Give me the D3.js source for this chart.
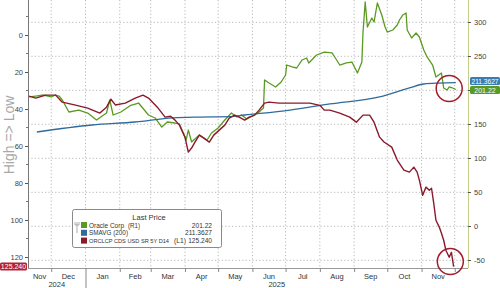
<!DOCTYPE html>
<html>
<head>
<meta charset="utf-8">
<script src="https://cdn.jsdelivr.net/npm/d3@7"></script>
<style>
  body { margin: 0; background: #fff; }
  svg { display: block; font-family: "Liberation Sans", Arial, sans-serif; }
  .axis path, .axis line { shape-rendering: crispEdges; }
</style>
</head>
<body>
<svg id="chart" width="500" height="288"></svg>
<script>
"use strict"

// Oracle Corp share price (right axis)
const oracle = [
  ["2024-11-11", 190.2], ["2024-11-17", 191.6], ["2024-11-24", 193.1], ["2024-12-01", 190.2],
  ["2024-12-05", 193.1], ["2024-12-08", 191.6], ["2024-12-11", 185.7], ["2024-12-17", 168.1],
  ["2024-12-26", 171.0], ["2025-01-03", 166.6], ["2025-01-11", 156.3], ["2025-01-20", 166.6],
  ["2025-01-23", 185.7], ["2025-01-26", 163.7], ["2025-02-02", 168.1], ["2025-02-11", 178.0],
  ["2025-02-18", 181.3], ["2025-02-27", 163.7], ["2025-03-05", 159.3], ["2025-03-11", 146.0],
  ["2025-03-16", 153.4], ["2025-03-23", 151.9], ["2025-03-27", 150.5], ["2025-04-02", 126.9],
  ["2025-04-04", 141.6], ["2025-04-07", 124.0], ["2025-04-14", 134.3], ["2025-04-21", 126.9],
  ["2025-04-25", 137.2], ["2025-05-01", 144.6], ["2025-05-07", 156.3], ["2025-05-13", 166.6],
  ["2025-05-18", 160.7], ["2025-05-22", 163.7], ["2025-05-27", 157.8], ["2025-06-03", 163.7],
  ["2025-06-07", 168.1], ["2025-06-11", 174.0], ["2025-06-12", 215.2], ["2025-06-16", 210.7],
  ["2025-06-22", 204.9], ["2025-06-27", 212.2], ["2025-07-01", 222.5], ["2025-07-02", 237.2],
  ["2025-07-07", 234.3], ["2025-07-11", 232.8], ["2025-07-16", 244.6], ["2025-07-20", 247.5],
  ["2025-07-22", 240.2], ["2025-07-29", 251.9], ["2025-08-05", 256.3], ["2025-08-12", 254.9],
  ["2025-08-15", 247.5], ["2025-08-19", 237.2], ["2025-08-25", 240.2], ["2025-08-30", 241.6],
  ["2025-09-04", 225.4], ["2025-09-08", 241.6], ["2025-09-09", 284.3], ["2025-09-11", 329.9],
  ["2025-09-13", 293.1], ["2025-09-17", 306.3], ["2025-09-19", 300.4], ["2025-09-22", 328.4],
  ["2025-09-26", 310.7], ["2025-09-29", 293.1], ["2025-10-01", 285.7], ["2025-10-06", 288.7],
  ["2025-10-10", 296.0], ["2025-10-12", 303.4], ["2025-10-15", 310.7], ["2025-10-18", 313.7],
  ["2025-10-19", 288.7], ["2025-10-23", 276.9], ["2025-10-27", 284.3], ["2025-10-30", 278.4],
  ["2025-11-03", 259.3], ["2025-11-06", 249.0], ["2025-11-11", 237.2], ["2025-11-14", 219.6],
  ["2025-11-19", 225.4], ["2025-11-21", 203.4], ["2025-11-24", 200.4], ["2025-11-26", 204.9],
  ["2025-11-29", 203.4], ["2025-12-02", 201.22]
]

// 200 day moving average (right axis)
const smavg = [
  ["2024-11-18", 138.7], ["2025-01-07", 149.0], ["2025-02-15", 153.4], ["2025-03-21", 159.5],
  ["2025-04-14", 160.7], ["2025-05-11", 161.2], ["2025-05-25", 163.7], ["2025-07-05", 171.0],
  ["2025-08-10", 179.9], ["2025-09-24", 190.2], ["2025-10-21", 203.4], ["2025-11-03", 209.3],
  ["2025-11-17", 210.7], ["2025-12-02", 211.3627]
]

// ORCLCP CDS USD SR 5Y D14 (left axis, inverted)
const cds = [
  ["2024-11-11", 33.1], ["2024-11-17", 34.2], ["2024-11-26", 32.6], ["2024-12-05", 32.6],
  ["2024-12-11", 36.4], ["2024-12-23", 38.0], ["2025-01-03", 39.6], ["2025-01-14", 42.3],
  ["2025-01-20", 39.1], ["2025-01-24", 34.8], ["2025-01-28", 37.9], ["2025-02-06", 36.9],
  ["2025-02-15", 34.2], ["2025-02-22", 32.6], ["2025-02-27", 34.2], ["2025-03-07", 39.1],
  ["2025-03-14", 44.5], ["2025-03-19", 44.0], ["2025-03-23", 46.1], ["2025-03-27", 48.8],
  ["2025-04-01", 55.3], ["2025-04-04", 63.4], ["2025-04-07", 61.2], ["2025-04-10", 58.0],
  ["2025-04-14", 54.2], ["2025-04-18", 55.8], ["2025-04-23", 58.0], ["2025-04-27", 54.2],
  ["2025-05-02", 51.5], ["2025-05-07", 48.8], ["2025-05-11", 45.0], ["2025-05-16", 43.4],
  ["2025-05-20", 44.5], ["2025-05-25", 46.1], ["2025-05-29", 44.5], ["2025-06-03", 43.4],
  ["2025-06-07", 40.7], ["2025-06-12", 36.9], ["2025-06-16", 36.4], ["2025-06-25", 36.9],
  ["2025-07-05", 36.9], ["2025-07-14", 36.9], ["2025-07-23", 36.9], ["2025-08-01", 38.1],
  ["2025-08-05", 40.7], ["2025-08-10", 40.7], ["2025-08-19", 42.3], ["2025-08-28", 44.5],
  ["2025-09-03", 47.2], ["2025-09-09", 43.4], ["2025-09-15", 43.4], ["2025-09-19", 47.2],
  ["2025-09-24", 55.3], ["2025-09-28", 57.9], ["2025-10-05", 60.7], ["2025-10-10", 67.7],
  ["2025-10-16", 73.1], ["2025-10-21", 74.2], ["2025-10-25", 71.5], ["2025-10-28", 74.2],
  ["2025-10-30", 78.5], ["2025-11-02", 86.7], ["2025-11-05", 82.3], ["2025-11-08", 84.0],
  ["2025-11-10", 82.9], ["2025-11-12", 91.0], ["2025-11-14", 100.2], ["2025-11-17", 103.9],
  ["2025-11-19", 107.2], ["2025-11-21", 111.0], ["2025-11-23", 116.4], ["2025-11-26", 120.2],
  ["2025-11-28", 117.5], ["2025-11-30", 125.24]
]

const leftTicks = [0, 20, 40, 60, 80, 100, 120]
const leftMinor = [-10, 10, 30, 50, 70, 90, 110]
const rightTicks = [-50, 0, 50, 100, 150, 200, 250, 300]
const legendNames = ["Oracle Corp", "SMAVG (200)", "ORCLCP CDS USD SR 5Y D14"]
const legendSides = ["(R1)", "", "(L1)"]
const legendValues = ["201.22", "211.3627", "125.240"]
const colors = ["#5b9a22", "#2f6b9c", "#8a1a2b"]

const parse = d3.timeParse("%Y-%m-%d")
const margin = {left: 28, right: 32, top: 0, bottom: 20}
const W = 500, H = 288
const plotB = H - margin.bottom

const svg = d3.select("#chart")

const x = d3.scaleTime()
  .domain([parse("2024-11-10"), parse("2025-12-13")])
  .range([margin.left, W - margin.right])
const yL = d3.scaleLinear().domain([-18.8, 126]).range([0, plotB])
const yR = d3.scaleLinear().domain([-61.3, 332.8]).range([plotB, 0])

// grid
const monthStarts = d3.timeMonth.range(parse("2024-12-01"), parse("2025-12-02"))
svg.append("g").selectAll("line")
  .data(monthStarts)
  .join("line")
  .attr("x1", d => x(d)).attr("x2", d => x(d))
  .attr("y1", 0).attr("y2", plotB)
  .attr("stroke", "#b8b8b8").attr("stroke-width", 1)
  .attr("stroke-dasharray", "1.2,2.2")
svg.append("g").selectAll("line")
  .data(rightTicks)
  .join("line")
  .attr("x1", margin.left).attr("x2", W - margin.right)
  .attr("y1", d => yR(d)).attr("y2", d => yR(d))
  .attr("stroke", "#b8b8b8").attr("stroke-width", 1)
  .attr("stroke-dasharray", "1.2,2.2")

// lines
const lineR = d3.line().x(d => x(parse(d[0]))).y(d => yR(d[1]))
const lineL = d3.line().x(d => x(parse(d[0]))).y(d => yL(d[1]))

svg.append("path").datum(oracle).attr("d", lineR)
  .attr("fill", "none").attr("stroke", colors[0]).attr("stroke-width", 1.3).attr("stroke-linejoin", "round")
svg.append("path").datum(smavg).attr("d", lineR.curve(d3.curveMonotoneX))
  .attr("fill", "none").attr("stroke", colors[1]).attr("stroke-width", 1.3)
svg.append("path").datum(cds).attr("d", lineL)
  .attr("fill", "none").attr("stroke", colors[2]).attr("stroke-width", 1.4).attr("stroke-linejoin", "round")

// left axis
const axL = svg.append("g").attr("class", "axis")
  .attr("transform", "translate(" + margin.left + ",0)")
  .call(d3.axisLeft(yL).tickValues(leftTicks).tickSize(3).tickPadding(2))
axL.select(".domain").attr("stroke", "#777").attr("d", "M0,0V" + plotB)
axL.selectAll("line").attr("stroke", "#555")
axL.selectAll("text").attr("fill", "#444").style("font-size", "7.5px")
svg.append("g").attr("class", "axis")
  .attr("transform", "translate(" + margin.left + ",0)")
  .call(d3.axisLeft(yL).tickValues(leftMinor).tickSize(2).tickFormat(""))
  .call(g => g.select(".domain").remove())
  .selectAll("line").attr("stroke", "#777")

// right axis (the 200 label sits under the last value tags)
const axR = svg.append("g").attr("class", "axis")
  .attr("transform", "translate(" + (W - margin.right) + ",0)")
  .call(d3.axisRight(yR).tickValues(rightTicks).tickSize(3).tickPadding(3)
    .tickFormat(d => d === 200 ? "" : d))
axR.select(".domain").attr("stroke", "#c3cf86").attr("d", "M0,0V" + plotB)
axR.selectAll("line").attr("stroke", "#555")
axR.selectAll("text").attr("fill", "#444").style("font-size", "7.5px")

// bottom axis
svg.append("line")
  .attr("x1", margin.left).attr("x2", W - margin.right)
  .attr("y1", plotB + 0.5).attr("y2", plotB + 0.5)
  .attr("stroke", "#999")
svg.append("g").selectAll("line")
  .data(monthStarts)
  .join("line")
  .attr("x1", d => x(d) + 0.5).attr("x2", d => x(d) + 0.5)
  .attr("y1", plotB).attr("y2", d => d.getMonth() === 0 ? H : plotB + 4)
  .attr("stroke", "#888")

const months = d3.timeMonth.range(parse("2024-11-01"), parse("2025-12-01"))
const xMin = x.domain()[0], xMax = x.domain()[1]
svg.append("g").selectAll("text")
  .data(months)
  .join("text")
  .attr("x", d => {
    const a = d < xMin ? xMin : d
    const b = d3.timeMonth.offset(d, 1)
    return (x(a) + x(b > xMax ? xMax : b)) / 2
  })
  .attr("y", plotB + 11)
  .attr("text-anchor", "middle")
  .attr("fill", "#333")
  .style("font-size", "7.5px")
  .text(d3.timeFormat("%b"))

const years = [["2024", xMin, parse("2025-01-01")], ["2025", parse("2025-01-01"), xMax]]
svg.append("g").selectAll("text")
  .data(years)
  .join("text")
  .attr("x", d => (x(d[1]) + x(d[2])) / 2)
  .attr("y", H - 1)
  .attr("text-anchor", "middle")
  .attr("fill", "#333")
  .style("font-size", "7.5px")
  .text(d => d[0])

// y title
svg.append("text")
  .attr("transform", "translate(14," + 135 + ") rotate(-90)")
  .attr("text-anchor", "middle")
  .attr("fill", "#a8a8a8")
  .style("font-size", "14px")
  .text("High => Low")

// last value tags
const tags = [
  {v: yR(211.3627) - 1.5, label: "211.3627", color: "#3a7db3", side: "r", fit: 27},
  {v: yR(201.22) + 0.5, label: "201.22", color: colors[0], side: "r", fit: 0},
  {v: yL(125.24), label: "125.240", color: "#b4222f", side: "l", fit: 0}
]
tags.forEach(t => {
  const x0 = t.side === "r" ? W - margin.right + 2 : 0
  const w = t.side === "r" ? margin.right - 2 : margin.left - 1
  svg.append("rect")
    .attr("x", x0).attr("y", t.v - 4).attr("width", w).attr("height", 8)
    .attr("rx", 1.5).attr("fill", t.color)
  const tx = svg.append("text")
    .attr("x", x0 + w / 2).attr("y", t.v + 2.6)
    .attr("text-anchor", "middle").attr("fill", "#fff")
    .style("font-size", "7px")
    .text(t.label)
  if (t.fit) tx.attr("textLength", t.fit).attr("lengthAdjust", "spacingAndGlyphs")
})

// circles
const circles = [[x(parse("2025-11-26")), yR(201.22) - 1], [x(parse("2025-11-27")), yL(125.24) - 5]]
svg.append("g").selectAll("circle")
  .data(circles)
  .join("circle")
  .attr("cx", d => d[0]).attr("cy", d => d[1]).attr("r", 13)
  .attr("fill", "none").attr("stroke", "#a31c2a").attr("stroke-width", 1.5)

// legend
const lg = svg.append("g").attr("transform", "translate(72,209)")
lg.append("rect")
  .attr("x", 0.5).attr("y", 0.5).attr("width", 149).attr("height", 38)
  .attr("rx", 2).attr("fill", "#fff").attr("stroke", "#8a8a8a")
lg.append("text")
  .attr("x", 77).attr("y", 10.5)
  .attr("text-anchor", "middle").attr("fill", "#333")
  .style("font-size", "7.5px")
  .text("Last Price")
lg.append("path")
  .attr("d", "M5,13V24M3,13V16H7V13")
  .attr("fill", "none").attr("stroke", "#999").attr("stroke-width", 0.8)
const nameWidths = [35, 39, 80]
const nameSizes = [7, 7, 5.8]
const rows = lg.selectAll(".row")
  .data(legendNames)
  .join("g")
  .attr("class", "row")
  .attr("transform", (d, i) => "translate(0," + (18.5 + i * 7.8) + ")")
rows.append("rect")
  .attr("x", 9).attr("y", -5.5).attr("width", 6).attr("height", 6)
  .attr("fill", (d, i) => colors[i])
// one text per legend row: name, axis side and last value as tspans
const names = rows.append("text")
  .attr("y", 0)
  .attr("fill", "#333").style("font-size", "7px")
names.append("tspan")
  .attr("x", 17)
  .style("font-size", (d, i) => nameSizes[i] + "px")
  .attr("textLength", (d, i) => nameWidths[i]).attr("lengthAdjust", "spacingAndGlyphs")
  .text(d => d)
names.filter((d, i) => legendSides[i] !== "")
  .append("tspan")
  .attr("x", d => legendNames.indexOf(d) === 0 ? 56 : 102)
  .attr("textLength", 12).attr("lengthAdjust", "spacingAndGlyphs")
  .text(d => legendSides[legendNames.indexOf(d)])
names.append("tspan")
  .attr("x", 140)
  .attr("text-anchor", "end")
  .style("font-size", "6.6px")
  .text(d => legendValues[legendNames.indexOf(d)])
</script>
</body>
</html>
